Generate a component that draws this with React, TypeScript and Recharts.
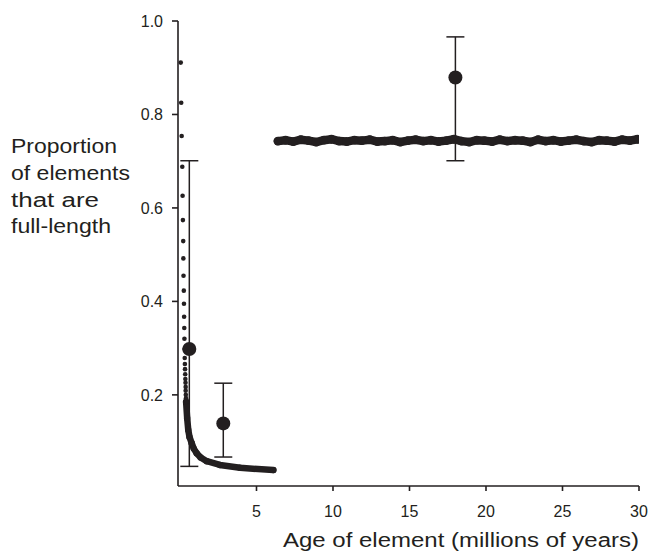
import React from 'react';
import { ScatterChart, Scatter, XAxis, YAxis, ErrorBar, Label } from 'recharts';

const INK = '#231f20';
const FONT = '"Liberation Sans", Arial, Helvetica, sans-serif';

// Model curve (dotted part near x = 0)
const decayX = [0.05, 0.08, 0.11, 0.15, 0.17, 0.19, 0.21, 0.22, 0.23, 0.25, 0.26, 0.27, 0.28, 0.29, 0.3, 0.31, 0.32, 0.33, 0.34, 0.35, 0.36, 0.37, 0.37, 0.38, 0.39, 0.4];
const decayY = [0.911, 0.825, 0.754, 0.688, 0.626, 0.574, 0.529, 0.492, 0.455, 0.423, 0.395, 0.367, 0.343, 0.32, 0.298, 0.279, 0.266, 0.255, 0.244, 0.234, 0.226, 0.217, 0.209, 0.2, 0.193, 0.185];

// Model curve (dense, thick tail)
const tailX = [0.4, 0.47, 0.54, 0.62, 0.76, 0.9, 1.09, 1.35, 1.75, 2.61, 3.92, 6.1];
const tailY = [0.185, 0.15, 0.125, 0.11, 0.097, 0.085, 0.075, 0.066, 0.058, 0.05, 0.044, 0.039];

// Older elements (noisy band)
const bandX = [6.4, 6.9, 7.4, 7.9, 8.4, 8.9, 9.4, 9.9, 10.4, 10.9, 11.4, 11.9, 12.4, 12.9, 13.4, 13.9, 14.4, 14.9, 15.4, 15.9, 16.4, 16.9, 17.4, 17.9, 18.4, 18.9, 19.4, 19.9, 20.4, 20.9, 21.4, 21.9, 22.4, 22.9, 23.4, 23.9, 24.4, 24.9, 25.4, 25.9, 26.4, 26.9, 27.4, 27.9, 28.4, 28.9, 29.4, 29.9];
const bandY = [0.743, 0.745, 0.742, 0.746, 0.744, 0.741, 0.745, 0.747, 0.743, 0.742, 0.745, 0.744, 0.746, 0.742, 0.743, 0.745, 0.741, 0.744, 0.746, 0.743, 0.745, 0.742, 0.744, 0.747, 0.743, 0.741, 0.745, 0.744, 0.742, 0.746, 0.743, 0.745, 0.744, 0.741, 0.746, 0.743, 0.745, 0.742, 0.744, 0.746, 0.743, 0.741, 0.745, 0.744, 0.742, 0.746, 0.744, 0.747];

// Observed means with error bars
const meanX = [0.61, 2.83, 18.0];
const meanY = [0.298, 0.139, 0.879];
const lowY = [0.047, 0.067, 0.701];
const highY = [0.701, 0.225, 0.966];

const xTicks = [5, 10, 15, 20, 25, 30];
const yTicks = [0.2, 0.4, 0.6, 0.8, 1.0];
const yTitleLines = ['Proportion', 'of elements', 'that are', 'full-length'];
const yTitleWidths = [106, 119, 88, 100];
const xTitle = 'Age of element (millions of years)';

const decayData = decayX.map((x, i) => ({ x, y: decayY[i] }));
const tailData = tailX.map((x, i) => ({ x, y: tailY[i] }));
const bandData = bandX.map((x, i) => ({ x, y: bandY[i] }));
const meanData = meanX.map((x, i) => ({ x, y: meanY[i], err: [meanY[i] - lowY[i], highY[i] - meanY[i]] }));

const dot = (r: number) => (p: any) => <circle cx={p.cx} cy={p.cy} r={r} fill={INK} />;

export default function App() {
  return (
    <div style={{ position: 'absolute', left: 0, top: 0, background: '#fff' }}>
      <ScatterChart width={654} height={554} margin={{ top: 21, right: 15, bottom: 38, left: 118 }}>
        <XAxis
          type="number"
          dataKey="x"
          domain={[-0.13, 30]}
          ticks={xTicks}
          allowDataOverflow
          height={30}
          tickSize={5}
          tickMargin={15}
          axisLine={{ stroke: INK, strokeWidth: 1.6 }}
          tickLine={{ stroke: INK, strokeWidth: 1.6 }}
          tick={{ fill: INK, fontSize: 16, fontFamily: FONT }}
        >
          <Label
            content={() => (
              <text x={461} y={547} textAnchor="middle" fontSize={20} fontFamily={FONT} fill={INK} textLength={356} lengthAdjust="spacingAndGlyphs">
                {xTitle}
              </text>
            )}
          />
        </XAxis>
        <YAxis
          type="number"
          dataKey="y"
          domain={[0.005, 1.0]}
          ticks={yTicks}
          allowDataOverflow
          width={60}
          tickSize={6}
          tickMargin={9}
          tickFormatter={(v: number) => v.toFixed(1)}
          axisLine={{ stroke: INK, strokeWidth: 1.6 }}
          tickLine={{ stroke: INK, strokeWidth: 1.6 }}
          tick={{ fill: INK, fontSize: 16, fontFamily: FONT }}
        >
          <Label
            content={() => (
              <text fontSize={20} fontFamily={FONT} fill={INK}>
                {yTitleLines.map((l, i) => (
                  <tspan key={i} x={11} y={153 + i * 26.8} textLength={yTitleWidths[i]} lengthAdjust="spacingAndGlyphs">
                    {l}
                  </tspan>
                ))}
              </text>
            )}
          />
        </YAxis>
        <Scatter
          data={bandData}
          shape={dot(4.4)}
          line={{ stroke: INK, strokeWidth: 8.5, strokeLinecap: 'round', strokeLinejoin: 'round' }}
          lineType="joint"
          isAnimationActive={false}
        />
        <Scatter
          data={tailData}
          shape={dot(3.2)}
          line={{ stroke: INK, strokeWidth: 6.5, strokeLinecap: 'round', strokeLinejoin: 'round' }}
          lineType="joint"
          isAnimationActive={false}
        />
        <Scatter data={decayData} shape={dot(2.3)} isAnimationActive={false} />
        <Scatter data={meanData} shape={dot(7)} isAnimationActive={false}>
          <ErrorBar dataKey="err" direction="y" width={9} stroke={INK} strokeWidth={1.5} isAnimationActive={false} />
        </Scatter>
      </ScatterChart>
    </div>
  );
}
